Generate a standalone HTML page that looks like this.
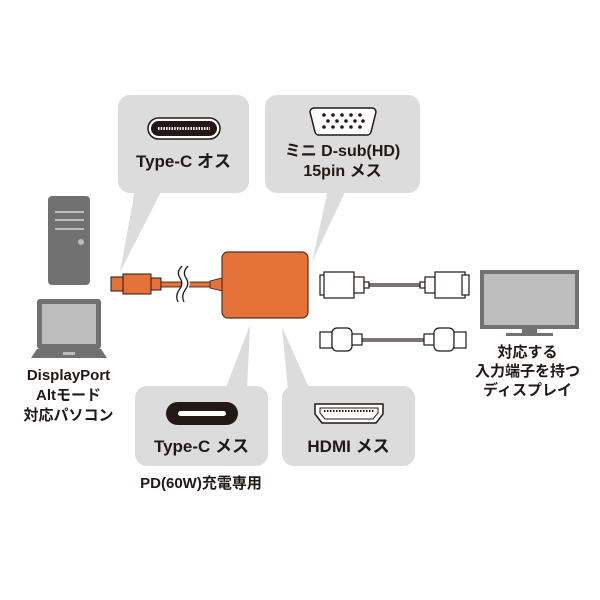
<!DOCTYPE html>
<html><head><meta charset="utf-8"><style>
body{margin:0;width:600px;height:600px;background:#fff;overflow:hidden;font-family:"Liberation Sans","Noto Sans CJK JP",sans-serif;}
.t{position:absolute;color:#231815;font-weight:bold;text-align:center;white-space:nowrap;}
</style></head><body>
<svg width="600" height="600" style="position:absolute;left:0;top:0">
<g fill="#dcdcdc">
<rect x="118" y="95" width="131" height="98" rx="12"/>
<polygon points="135,190 162,190 120,272"/>
<rect x="265" y="95" width="155" height="98" rx="12"/>
<polygon points="328,190 346,190 312,262"/>
<rect x="135" y="386" width="133" height="80" rx="12"/>
<polygon points="225,390 247,390 250,325"/>
<rect x="282" y="386" width="133" height="80" rx="12"/>
<polygon points="288,390 310,390 282,327"/>
</g>
<rect x="148" y="118" width="72" height="21" rx="10.5" fill="#fff" stroke="#231815" stroke-width="1.5"/>
<rect x="151" y="121" width="66" height="15" rx="7.5" fill="#231815"/>
<line x1="158" y1="128.5" x2="210" y2="128.5" stroke="#fff" stroke-width="3" stroke-dasharray="1.5 1.2"/>
<path d="M314,108 h58 a4,4 0 0 1 4,4 l-5,20 a4,4 0 0 1 -4,3 h-48 a4,4 0 0 1 -4,-3 l-5,-20 a4,4 0 0 1 4,-4z" fill="#fff" stroke="#231815" stroke-width="1.5"/>
<g fill="#231815"><circle cx="324" cy="115" r="1.8"/><circle cx="333" cy="115" r="1.8"/><circle cx="342" cy="115" r="1.8"/><circle cx="351" cy="115" r="1.8"/><circle cx="360" cy="115" r="1.8"/>
<circle cx="328" cy="121" r="1.8"/><circle cx="337" cy="121" r="1.8"/><circle cx="346" cy="121" r="1.8"/><circle cx="355" cy="121" r="1.8"/><circle cx="363" cy="121" r="1.8"/>
<circle cx="324" cy="127" r="1.8"/><circle cx="333" cy="127" r="1.8"/><circle cx="342" cy="127" r="1.8"/><circle cx="351" cy="127" r="1.8"/><circle cx="360" cy="127" r="1.8"/></g>
<rect x="166" y="402" width="72" height="23" rx="11.5" fill="#231815"/>
<rect x="178" y="411" width="48" height="5" rx="2.5" fill="#fff"/>
<path d="M315,404 h68 v10 l-7,9 h-54 l-7,-9z" fill="#fff" stroke="#231815" stroke-width="1.5"/>
<path d="M320,408 h58 v5 l-5,6 h-48 l-5,-6z" fill="none" stroke="#231815" stroke-width="1"/>
<line x1="324" y1="411" x2="374" y2="411" stroke="#231815" stroke-width="2" stroke-dasharray="1.5 1.5"/>
<rect x="48" y="196" width="42" height="89" rx="4" fill="#717171"/>
<g stroke="#bdbdbd" stroke-width="2"><line x1="55" y1="212" x2="84" y2="212"/><line x1="55" y1="220" x2="84" y2="220"/><line x1="55" y1="229" x2="84" y2="229"/></g>
<circle cx="81" cy="242" r="3" fill="#bdbdbd"/>
<rect x="37" y="299" width="64" height="50" rx="3" fill="#717171"/>
<rect x="42" y="304" width="54" height="40" fill="#bdbdbd"/>
<path d="M37,349 h64 l6,9 h-76z" fill="#717171"/>
<rect x="63" y="352" width="12" height="3" fill="#bdbdbd"/>
<rect x="480" y="270" width="99" height="59" fill="#717171"/>
<rect x="484" y="274" width="91" height="51" fill="#bdbdbd"/>
<rect x="522" y="329" width="15" height="4" fill="#717171"/>
<rect x="506" y="333" width="47" height="3" fill="#717171"/>
<rect x="111" y="277" width="12" height="14" fill="#e57339" stroke="#231815" stroke-width="1"/>
<rect x="123" y="274" width="28" height="20" fill="#e57339" stroke="#231815" stroke-width="1"/>
<rect x="151" y="278" width="10" height="12" fill="#e57339" stroke="#231815" stroke-width="1"/>
<rect x="161" y="282" width="53" height="5" fill="#e57339" stroke="#231815" stroke-width="0.8"/>
<path d="M182,266 q-6,6 -2,12 q4,6 -1,12 q-4,6 -1,12 L186,302 q-3,-6 1,-12 q5,-6 1,-12 q-4,-6 2,-12z" fill="#fff"/>
<path d="M182,266 q-6,6 -2,12 q4,6 -1,12 q-4,6 -1,12 M188,266 q-6,6 -2,12 q4,6 -1,12 q-4,6 -1,12" fill="none" stroke="#231815" stroke-width="1.3"/>
<path d="M210,281 l12,-3 v13 l-12,-3z" fill="#e57339" stroke="#231815" stroke-width="0.8"/>
<rect x="222" y="252" width="86" height="66" rx="6" fill="#e57339" stroke="#5a2e1a" stroke-width="1.2"/>
<g fill="#fff" stroke="#231815" stroke-width="1.2">
<rect x="320" y="275" width="7" height="20"/><rect x="324" y="272" width="30" height="26"/><rect x="354" y="277" width="10" height="16"/><rect x="364" y="282" width="5" height="6"/>
<rect x="420" y="282" width="5" height="6"/><rect x="425" y="277" width="10" height="16"/><rect x="435" y="272" width="30" height="26"/><rect x="462" y="275" width="7" height="20"/>
<rect x="369" y="284" width="51" height="2"/>
</g>
<g fill="#fff" stroke="#231815" stroke-width="1.2">
<rect x="320" y="332" width="12" height="16"/><rect x="332" y="328" width="20" height="23" rx="5"/><rect x="352" y="334" width="10" height="11"/>
<rect x="362" y="339" width="62" height="2"/>
<rect x="424" y="334" width="10" height="11"/><rect x="434" y="328" width="20" height="23" rx="5"/><rect x="454" y="332" width="12" height="16"/>
</g>
</svg>
<div class="t" style="left:118px;top:147px;width:131px;font-size:17px">Type-C オス</div>
<div class="t" style="left:265px;top:142px;width:155px;font-size:16px;line-height:20px">ミニ D-sub(HD)<br>15pin メス</div>
<div class="t" style="left:135px;top:432px;width:133px;font-size:17px">Type-C メス</div>
<div class="t" style="left:282px;top:432px;width:133px;font-size:17px">HDMI メス</div>
<div class="t" style="left:0px;top:366px;width:137px;font-size:15px;line-height:20px">DisplayPort<br>Altモード<br>対応パソコン</div>
<div class="t" style="left:455px;top:343px;width:145px;font-size:15px;line-height:19px">対応する<br>入力端子を持つ<br>ディスプレイ</div>
<div class="t" style="left:110px;top:472px;width:182px;font-size:15px">PD(60W)充電専用</div>
</body></html>
